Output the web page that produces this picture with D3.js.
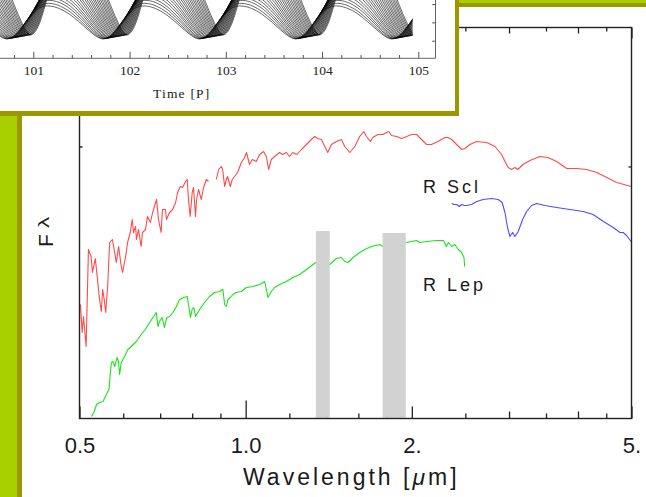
<!DOCTYPE html>
<html><head><meta charset="utf-8">
<script src="https://cdn.jsdelivr.net/npm/d3@7"></script>
<style>html,body{margin:0;padding:0;background:#fff;overflow:hidden}svg{display:block}</style>
</head><body><svg id="c" width="646" height="497"></svg>
<script>
// ---------- Main chart data (wavelength in micron, flux in arbitrary units) ----------
const sclOptWl = [0.502,0.5056,0.5084,0.514,0.519,0.5248,0.5277,0.534,0.539,0.5436,0.5477,0.5507,0.5543,0.5578,0.5623,0.567,0.5735,0.5766,0.583,0.5886,0.5952,0.5985,0.6061,0.611,0.6178,0.6231,0.6264,0.6316,0.6342,0.6394,0.6465,0.6502,0.6584,0.664,0.672,0.6784,0.6868,0.6896,0.6952,0.7028,0.7067,0.7157,0.7187,0.728,0.7373,0.7466,0.7528,0.7612,0.7686,0.7782,0.7836,0.7878,0.7933,0.8001,0.8045,0.8113,0.8148,0.8215,0.831,0.839,0.8485,0.8565];
const sclOptF  = [114,86,102,72,169,162,146,160,139,119,107,129,119,106,132,176,179,172,156,172,152,146,162,176,186,199,186,192,179,189,172,186,189,202,196,206,216,219,199,186,209,209,199,206,209,216,226,232,231,237,239,219,202,226,231,202,219,229,219,231,239,237];
const sclNirWl = [0.8848,0.8933,0.9035,0.9084,0.916,0.9225,0.9274,0.9378,0.9456,0.9548,0.967,0.9822,0.9955,1.0037,1.016,1.0279,1.0455,1.06,1.078,1.0902,1.1005,1.1128,1.1285,1.152,1.1667,1.1849,1.201,1.2169,1.2381,1.262,1.2885,1.3151,1.3335,1.3503,1.3715,1.3911,1.4084,1.4302,1.4601,1.4909,1.512,1.544,1.5765,1.609,1.6366,1.6553,1.683,1.6995,1.7356,1.772,1.7996,1.8166,1.8372,1.8763,1.9158,1.9573,1.997,2.039,2.083,2.127,2.171,2.23,2.296,2.325,2.361,2.411,2.462,2.496,2.548,2.621,2.733,2.829,2.909,2.949,2.99,3.033,3.075,3.112,3.179,3.273,3.412,3.528,3.659,3.816,3.978,4.147,4.325,4.512,4.701,4.846,4.99];
const sclNirF  = [239,249,252,249,232,239,242,232,239,242,246,256,261,266,254,259,257,264,267,262,249,259,262,266,264,266,262,266,264,269,274,279,282,280,279,272,266,274,277,279,272,266,272,282,287,282,277,281,284,284,286,287,283,282,280,282,284,284,279,274,274,277,281,281,279,274,269,270,274,277,276,272,264,257,251,249,251,249,254,258,262,261,257,250,250,249,246,241,236,234,232];
const sclIrWl  = [2.361,2.385,2.411,2.437,2.462,2.49,2.513,2.566,2.621,2.694,2.789,2.868,2.915,2.949,2.981,3.011,3.045,3.075,3.117,3.175,3.228,3.296,3.366,3.485,3.659,3.868,4.088,4.26,4.447,4.634,4.766,4.83,4.897,4.99];
const sclIrF   = [215,214,214,212,214,213,213,214,217,219,220,219,216,206,191,182,186,182,187,199,207,213,215,213,211,209,207,204,197,191,186,186,183,177];
const lepWl = [0.5256,0.5317,0.5368,0.5436,0.5514,0.5593,0.5654,0.5688,0.5712,0.5751,0.5792,0.5849,0.5884,0.591,0.5952,0.6035,0.6119,0.6205,0.6335,0.6467,0.658,0.67,0.6792,0.6888,0.6935,0.698,0.7058,0.7127,0.7196,0.728,0.7383,0.749,0.759,0.7718,0.7836,0.7888,0.7943,0.7998,0.8053,0.8113,0.825,0.8425,0.86,0.8785,0.897,0.9093,0.916,0.9225,0.9288,0.9378,0.948,0.9613,0.9822,1.0029,1.0309,1.06,1.0825,1.0902,1.0975,1.1128,1.1285,1.152,1.1849,1.2186,1.253,1.2885,1.3246,1.3394,1.379,1.42,1.4397,1.4601,1.4909,1.512,1.5333,1.5656,1.609,1.6435,1.69,1.75,1.772,1.863,1.9573,1.997,2.039,2.068,2.127,2.218,2.283,2.309,2.331,2.361,2.394,2.428,2.462,2.486,2.493];
const lepF  = [2,7,14,16,17,24,29,46,56,57,52,61,57,44,56,62,69,72,77,84,89,96,101,106,92,97,101,91,101,102,106,112,119,121,122,112,101,109,111,102,109,116,122,126,127,129,114,112,119,121,124,126,127,131,132,134,137,129,121,127,131,134,137,141,144,149,154,156,157,154,157,160,161,157,156,161,166,169,172,174,172,175,176,177,178,176,177,178,178,172,176,172,174,169,166,161,152];
const bandStart = [1.34, 1.77];
const bandEnd   = [1.42, 1.95];
const bandTop   = [187.5, 185.5];
const majorTicks = [0.5, 1, 2, 5];
const majorLabels = ["0.5", "1.0", "2.", "5."];
const minorTicks = [0.6,0.7,0.8,0.9,1.2,1.4,1.6,1.8,2.5,3,3.5,4,4.5];
const starNames = ["R Scl", "R Lep"];

// ---------- Inset data (mass-shell trajectories) ----------
const insetTicks = [101, 102, 103, 104, 105];
const insetMinor = [100.8,101.2,101.4,101.6,101.8,102.2,102.4,102.6,102.8,103.2,103.4,103.6,103.8,104.2,104.4,104.6,104.8];
const profilePhase = [0,0.05,0.1,0.15,0.2,0.25,0.3,0.35,0.43,0.5,0.55,0.6,0.65,0.7,0.75,0.8,0.85,0.9,0.95,1];
const profileShape = [0,0.04,0.15,0.32,0.51,0.69,0.84,0.95,1.0,0.97,0.92,0.85,0.76,0.65,0.53,0.4,0.27,0.15,0.05,0];
const shellMin = [1.05,1.05,1.06,1.06,1.07,1.07,1.08,1.08,1.09,1.09,1.1,1.1,1.11,1.11,1.12,1.12,1.13,1.13,1.14,1.14,1.15,1.15,1.16,1.16];
const shellAmp = [0.90,0.97,1.04,1.11,1.18,1.25,1.32,1.39,1.46,1.53,1.60,1.67,1.74,1.81,1.88,1.95,2.02,2.09,2.16,2.23,2.30,2.37,2.44,2.51];
const shellLag = [0,0.011,0.022,0.033,0.044,0.055,0.066,0.077,0.088,0.099,0.11,0.121,0.132,0.143,0.154,0.165,0.176,0.187,0.198,0.209,0.22,0.231,0.242,0.253];
const cycleStarts = [99, 100, 101, 102, 103, 104];

// ---------- Drawing ----------
const svg = d3.select("#c");
const OLIVE = "#9b9700", LIME = "#a8cf00";
svg.append("rect").attr("width", 646).attr("height", 497).attr("fill", "#fff");

const x = d3.scaleLog().domain([0.5, 5]).range([79.5, 631.5]);
const y = d3.scaleLinear().domain([0, 391]).range([418.5, 27.5]);
const line = d3.line().x(d => x(d[0])).y(d => y(d[1]));
const zip = (a, b) => a.map((v, i) => [v, b[i]]);

const plot = svg.append("g");
function axisGroup(gen, vals, len, fmt, tr) {
  const g = plot.append("g").attr("transform", tr)
    .call(gen(x).tickValues(vals).tickSize(-len).tickSizeOuter(0).tickFormat(fmt || (() => "")));
  g.select(".domain").remove();
  g.selectAll(".tick line").attr("stroke", "#222").attr("stroke-width", 1.3);
  return g;
}
const fmtMajor = d => majorLabels[majorTicks.indexOf(d)];
const gB = axisGroup(d3.axisBottom, majorTicks, 12, fmtMajor, "translate(0,418.5)");
gB.selectAll(".tick line").attr("y2", d => d === 1 ? -18 : -12);
gB.selectAll("text").attr("y", 19).attr("dy", "0.71em").attr("font-family", "Liberation Sans, Arial, sans-serif").attr("font-size", 22).attr("fill", "#1a1a1a");
const gBm = axisGroup(d3.axisBottom, minorTicks, 5, null, "translate(0,418.5)");
gBm.selectAll(".tick line").attr("y2", d => (d === 3 || d === 4) ? -7 : -5);
const gT = axisGroup(d3.axisTop, majorTicks, 11, null, "translate(0,27.5)");
const gTm = axisGroup(d3.axisTop, minorTicks, 4, null, "translate(0,27.5)");
gTm.selectAll(".tick line").attr("y2", d => (d === 3 || d === 4) ? 6 : 4);
const gL = plot.append("g").attr("transform", "translate(79.5,0)").call(d3.axisLeft(y).tickValues([272]).tickSize(-3).tickFormat(() => ""));
gL.select(".domain").remove(); gL.selectAll("line").attr("stroke", "#222").attr("stroke-width", 1.5);
const gR = plot.append("g").attr("transform", "translate(631.5,0)").call(d3.axisRight(y).tickValues([252]).tickSize(-3).tickFormat(() => ""));
gR.select(".domain").remove(); gR.selectAll("line").attr("stroke", "#222").attr("stroke-width", 1.3);

// spectra
const specs = [
  [sclOptWl, sclOptF, "#ff4a4a"],
  [sclNirWl, sclNirF, "#ff4a4a"],
  [sclIrWl, sclIrF, "#4c4cff"],
  [lepWl, lepF, "#18e418"]
];
specs.forEach(([w, f, c]) => plot.append("path").datum(zip(w, f)).attr("d", line)
  .attr("fill", "none").attr("stroke", c).attr("stroke-width", 1.1).attr("stroke-linejoin", "round"));

// telluric bands
plot.selectAll("rect.band").data(bandStart).join("rect").attr("class", "band")
  .attr("x", (d) => x(d)).attr("width", (d, i) => x(bandEnd[i]) - x(d))
  .attr("y", (d, i) => y(bandTop[i])).attr("height", (d, i) => y(0.6) - y(bandTop[i]))
  .attr("fill", "#d2d2d2");

// frame
plot.append("rect").attr("x", 79.5).attr("y", 27.5).attr("width", 552).attr("height", 391)
  .attr("fill", "none").attr("stroke", "#222").attr("stroke-width", 1.4);

// labels
const sans = "Liberation Sans, Arial, Helvetica, sans-serif";
plot.append("text").attr("x", 243).attr("y", 485).attr("font-family", sans).attr("font-size", 23)
  .attr("letter-spacing", 3).attr("fill", "#1a1a1a")
  .html('Wavelength [<tspan font-style="italic">μ</tspan>m]');
const yl = plot.append("g").attr("transform", "translate(53,247) rotate(-90)");
yl.append("text").attr("font-family", sans).attr("font-size", 21).attr("fill", "#1a1a1a").text("F");
yl.append("text").attr("transform", "translate(19,-4) scale(1.6,1)").attr("font-family", sans)
  .attr("font-size", 14).attr("fill", "#1a1a1a").text("λ");
plot.append("text").attr("x", 423).attr("y", 193).attr("font-family", sans).attr("font-size", 18)
  .attr("letter-spacing", 3).attr("fill", "#1a1a1a").text(starNames[0]);
plot.append("text").attr("x", 423).attr("y", 291).attr("font-family", sans).attr("font-size", 18)
  .attr("letter-spacing", 3).attr("fill", "#1a1a1a").text(starNames[1]);

// slide decorations
svg.append("rect").attr("x", 0).attr("y", 116).attr("width", 17).attr("height", 381).attr("fill", LIME);
svg.append("rect").attr("x", 17).attr("y", 116).attr("width", 5).attr("height", 381).attr("fill", OLIVE);
svg.append("rect").attr("x", 459).attr("y", 0).attr("width", 187).attr("height", 3).attr("fill", LIME);
svg.append("rect").attr("x", 459).attr("y", 3).attr("width", 187).attr("height", 4).attr("fill", OLIVE);

// ---------- Inset ----------
const inset = svg.append("g");
inset.append("rect").attr("x", 0).attr("y", 0).attr("width", 455).attr("height", 111).attr("fill", "#fff");
inset.append("rect").attr("x", 455).attr("y", 0).attr("width", 4).attr("height", 116).attr("fill", OLIVE);
inset.append("rect").attr("x", 0).attr("y", 111).attr("width", 459).attr("height", 5).attr("fill", OLIVE);

const xt = d3.scaleLinear().domain([101, 105]).range([33.3, 418.3]);
const yt = d3.scaleLinear().domain([0.5, 2.1]).range([59, 0.4]);
svg.append("clipPath").attr("id", "ic").append("rect").attr("x", 0).attr("y", 0).attr("width", xt(104.94)).attr("height", 57);
const shellLine = d3.line().x(d => xt(d[0])).y(d => yt(d[1])).curve(d3.curveMonotoneX);
const shellsG = inset.append("g").attr("clip-path", "url(#ic)");
shellMin.forEach((m, k) => {
  const pts = [];
  cycleStarts.forEach(c => profilePhase.forEach((p, j) => {
    if (j === profilePhase.length - 1) return;
    pts.push([c + 0.72 + shellLag[k] + p, m + shellAmp[k] * profileShape[j]]);
  }));
  shellsG.append("path").datum(pts).attr("d", shellLine).attr("fill", "none")
    .attr("stroke", "#000").attr("stroke-width", 0.6);
});
const serif = "Liberation Serif, Times New Roman, serif";
const gi = inset.append("g").attr("transform", "translate(0,58.3)")
  .call(d3.axisBottom(xt).tickValues(insetTicks).tickSize(-6.5).tickSizeOuter(0).tickFormat(d3.format("d")));
gi.select(".domain").remove();
gi.selectAll("line").attr("stroke", "#555");
gi.selectAll("text").attr("y", 7).attr("dy", "0.71em").attr("font-family", serif).attr("font-size", 13.5).attr("fill", "#222");
const gim = inset.append("g").attr("transform", "translate(0,58.3)")
  .call(d3.axisBottom(xt).tickValues(insetMinor).tickSize(-3.3).tickFormat(() => ""));
gim.select(".domain").remove(); gim.selectAll("line").attr("stroke", "#555");
inset.append("line").attr("x1", 0).attr("x2", 435.5).attr("y1", 58.3).attr("y2", 58.3).attr("stroke", "#666").attr("stroke-width", 1);
inset.append("line").attr("x1", 435.5).attr("x2", 435.5).attr("y1", 0).attr("y2", 58.3).attr("stroke", "#666").attr("stroke-width", 1);
const gir = inset.append("g").attr("transform", "translate(435.5,0)")
  .call(d3.axisRight(yt).tickValues([1, 1.5, 2]).tickSize(-3.3).tickFormat(() => ""));
gir.select(".domain").remove(); gir.selectAll("line").attr("stroke", "#555");
inset.append("text").attr("x", 153).attr("y", 98).attr("font-family", serif).attr("font-size", 13.5)
  .attr("letter-spacing", 1.2).attr("fill", "#222").text("Time [P]");
</script></body></html>
